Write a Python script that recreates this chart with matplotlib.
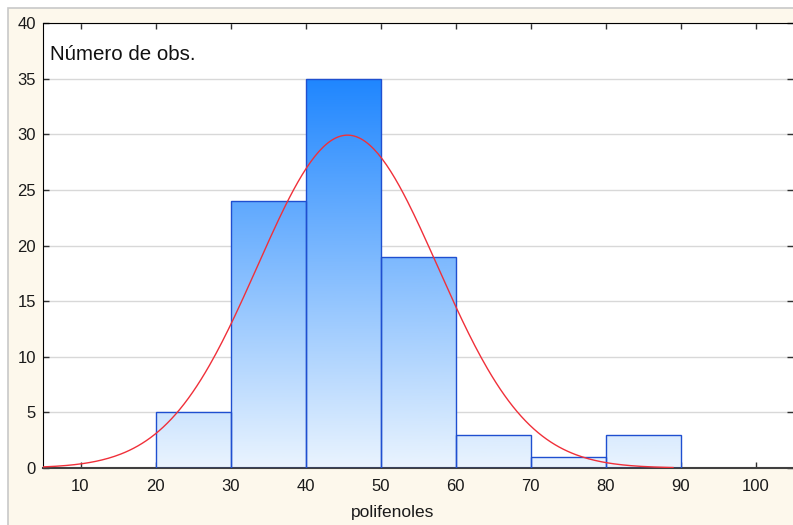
import numpy as np
import matplotlib
matplotlib.use('Agg')
import matplotlib.pyplot as plt
from matplotlib.colors import LinearSegmentedColormap
from matplotlib.patches import Rectangle

########################
# Histogram data
########################
bin_left = [20, 30, 40, 50, 60, 70, 80]
bin_width = 10
counts = [5, 24, 35, 19, 3, 1, 3]

# fitted normal curve
fit_mean = 45.6
fit_sd = 12.0
fit_n = 90
fit_x_range = (5, 89)

x_ticks = [10, 20, 30, 40, 50, 60, 70, 80, 90, 100]
y_ticks = [0, 5, 10, 15, 20, 25, 30, 35, 40]

plt.rcParams['font.family'] = ['Liberation Sans', 'DejaVu Sans']

fig = plt.figure(figsize=(7.93, 5.25), dpi=100)
fig.patch.set_facecolor('white')
# cream panel with gray border
fig.patches.append(Rectangle((8 / 793, -0.05), 1, 1.05 - 8 / 525, transform=fig.transFigure,
                             facecolor='#fdf8ec', edgecolor='#c8c8c8', linewidth=1.2, zorder=-5))

ax = fig.add_axes([43 / 793, 57 / 525, 750 / 793, 445 / 525])
ax.set_facecolor('white')

# bars with vertical gradient fill
cmap = LinearSegmentedColormap.from_list('blu', ['#eaf4fe', '#1f86fe'])
grad = np.linspace(0, 1, 256).reshape(-1, 1)
bars = ax.bar(bin_left, counts, width=bin_width, align='edge',
              facecolor='none', edgecolor='#1f4fd0', linewidth=1.0, zorder=3)
for p in bars.patches:
    im = ax.imshow(grad, extent=[5, 105, 0, max(counts)], origin='lower',
                   aspect='auto', cmap=cmap, zorder=2)
    im.set_clip_path(p)

# normal curve
xs = np.linspace(fit_x_range[0], fit_x_range[1], 300)
ys = fit_n * bin_width / (fit_sd * np.sqrt(2 * np.pi)) * np.exp(-0.5 * ((xs - fit_mean) / fit_sd) ** 2)
ax.plot(xs, ys, color='#f0303a', linewidth=1.0, zorder=4)

ax.set_xlim(5, 105)
ax.set_ylim(0, 40)
ax.set_xticks(x_ticks)
ax.set_yticks(y_ticks)
ax.grid(axis='y', color='#d8d8d8', linewidth=1.0, zorder=0)
ax.set_axisbelow(True)
ax.tick_params(direction='in', length=4, width=1, colors='#303030', labelsize=12,
               top=True, right=True, labelcolor='#1a1a1a')
ax.tick_params(axis='x', pad=8)
ax.tick_params(axis='y', pad=5)

for s in ['left', 'top']:
    ax.spines[s].set_color('black')
ax.spines['bottom'].set_color('#404040')
ax.spines['bottom'].set_linewidth(1.5)
ax.spines['right'].set_visible(False)

fig.text(50 / 793, 1 - 54 / 525, 'Número de obs.', fontsize=14.8, color='#111111',
         ha='left', va='center')
fig.text(393 / 793, 1 - 513 / 525, 'polifenoles', fontsize=12.5, color='#1a1a1a',
         ha='center', va='center')

plt.savefig('out.png', dpi=100, facecolor=fig.get_facecolor())
